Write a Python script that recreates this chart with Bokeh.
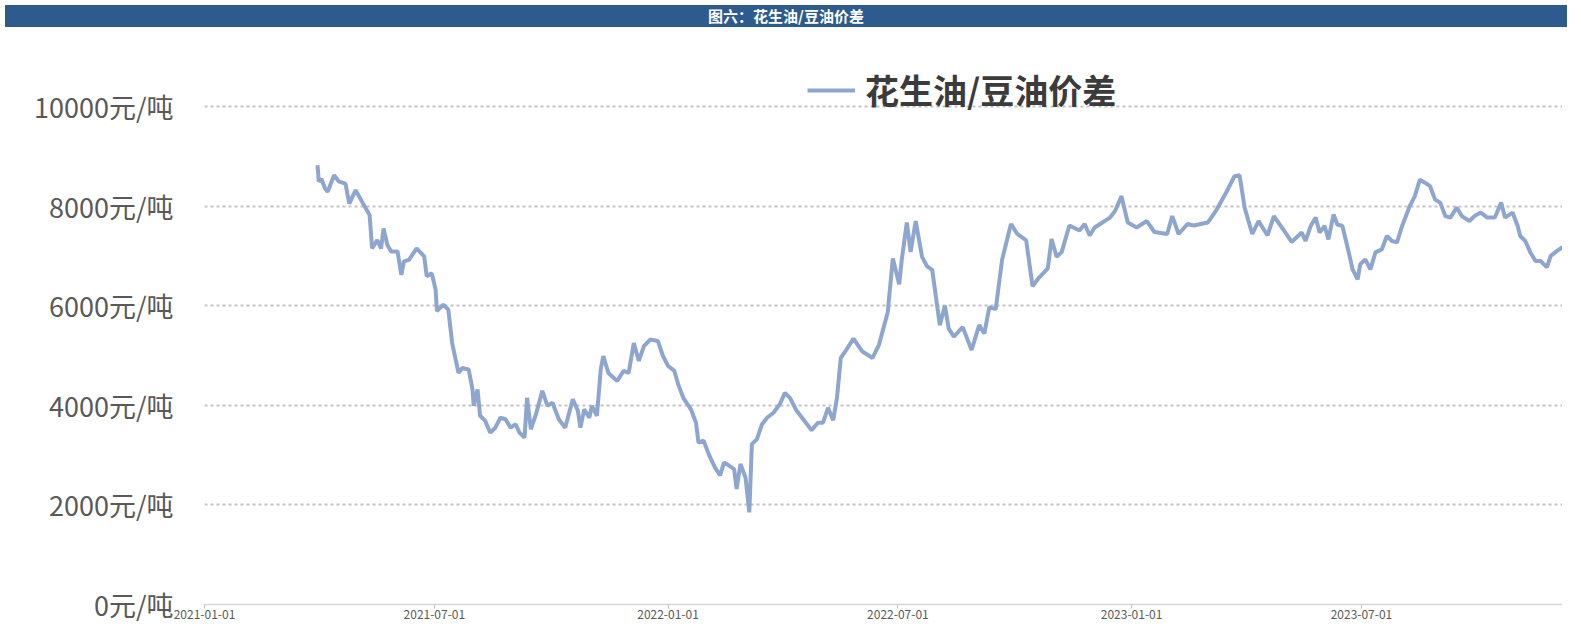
import pandas as pd
from bokeh.plotting import figure
from bokeh.models import Range1d, FixedTicker, Legend, LegendItem, Div, DatetimeTickFormatter
from bokeh.layouts import column
from bokeh.embed import file_html
from bokeh.resources import INLINE

# ---------------- data ----------------
title_text = "图六：花生油/豆油价差"
series_name = "花生油/豆油价差"

dates = [
    "2021-03-31", "2021-04-01", "2021-04-03", "2021-04-06", "2021-04-08", "2021-04-13", "2021-04-17",
    "2021-04-22", "2021-04-25", "2021-04-30", "2021-05-05", "2021-05-11", "2021-05-13", "2021-05-17",
    "2021-05-20", "2021-05-22", "2021-05-25", "2021-05-28", "2021-06-02", "2021-06-05", "2021-06-07",
    "2021-06-11", "2021-06-17", "2021-06-23", "2021-06-25", "2021-06-29", "2021-07-02", "2021-07-03",
    "2021-07-08", "2021-07-12", "2021-07-15", "2021-07-18", "2021-07-20", "2021-07-23", "2021-07-28",
    "2021-07-31", "2021-08-01", "2021-08-04", "2021-08-06", "2021-08-10", "2021-08-14", "2021-08-18",
    "2021-08-22", "2021-08-26", "2021-08-30", "2021-09-03", "2021-09-06", "2021-09-10", "2021-09-12",
    "2021-09-15", "2021-09-19", "2021-09-24", "2021-09-28", "2021-10-02", "2021-10-07", "2021-10-12",
    "2021-10-18", "2021-10-22", "2021-10-24", "2021-10-27", "2021-10-31", "2021-11-02", "2021-11-06",
    "2021-11-09", "2021-11-11", "2021-11-15", "2021-11-22", "2021-11-27", "2021-12-01", "2021-12-05",
    "2021-12-09", "2021-12-13", "2021-12-18", "2021-12-24", "2021-12-28", "2022-01-01", "2022-01-06",
    "2022-01-09", "2022-01-13", "2022-01-19", "2022-01-23", "2022-01-25", "2022-01-29", "2022-02-02",
    "2022-02-07", "2022-02-11", "2022-02-14", "2022-02-18", "2022-02-22", "2022-02-24", "2022-02-27",
    "2022-03-03", "2022-03-06", "2022-03-08", "2022-03-12", "2022-03-16", "2022-03-20", "2022-03-25",
    "2022-03-30", "2022-04-03", "2022-04-07", "2022-04-12", "2022-04-18", "2022-04-24", "2022-04-29",
    "2022-05-03", "2022-05-07", "2022-05-11", "2022-05-14", "2022-05-17", "2022-05-21", "2022-05-27",
    "2022-06-03", "2022-06-11", "2022-06-16", "2022-06-23", "2022-06-27", "2022-07-02", "2022-07-04",
    "2022-07-08", "2022-07-11", "2022-07-15", "2022-07-20", "2022-07-24", "2022-07-28", "2022-08-03",
    "2022-08-07", "2022-08-10", "2022-08-14", "2022-08-21", "2022-08-28", "2022-09-03", "2022-09-07",
    "2022-09-11", "2022-09-16", "2022-09-21", "2022-09-28", "2022-10-03", "2022-10-10", "2022-10-15",
    "2022-10-20", "2022-10-27", "2022-10-30", "2022-11-03", "2022-11-07", "2022-11-13", "2022-11-21",
    "2022-11-25", "2022-11-29", "2022-12-03", "2022-12-09", "2022-12-15", "2022-12-19", "2022-12-24",
    "2022-12-29", "2023-01-05", "2023-01-13", "2023-01-19", "2023-01-29", "2023-02-02", "2023-02-07",
    "2023-02-14", "2023-02-19", "2023-03-02", "2023-03-09", "2023-03-17", "2023-03-23", "2023-03-27",
    "2023-03-31", "2023-04-06", "2023-04-11", "2023-04-18", "2023-04-23", "2023-05-01", "2023-05-07",
    "2023-05-15", "2023-05-18", "2023-05-22", "2023-05-26", "2023-05-29", "2023-06-02", "2023-06-05",
    "2023-06-09", "2023-06-12", "2023-06-16", "2023-06-21", "2023-06-24", "2023-06-28", "2023-06-30",
    "2023-07-04", "2023-07-08", "2023-07-12", "2023-07-17", "2023-07-21", "2023-07-25", "2023-07-29",
    "2023-08-02", "2023-08-08", "2023-08-12", "2023-08-16", "2023-08-20", "2023-08-24", "2023-08-28",
    "2023-09-01", "2023-09-05", "2023-09-09", "2023-09-14", "2023-09-18", "2023-09-24", "2023-09-28",
    "2023-10-03", "2023-10-08", "2023-10-14", "2023-10-19", "2023-10-22", "2023-10-28", "2023-11-01",
    "2023-11-03", "2023-11-07", "2023-11-11", "2023-11-15", "2023-11-19", "2023-11-24", "2023-11-27",
    "2023-12-02", "2023-12-06", "2023-12-10", "2023-12-14", "2023-12-18", "2023-12-23",
]

spread = [
    8820, 8490, 8550, 8350, 8290, 8620, 8490,
    8450, 8050, 8320, 8090, 7820, 7150, 7320,
    7150, 7550, 7220, 7090, 7090, 6620, 6890,
    6920, 7150, 6990, 6590, 6650, 6320, 5890,
    6020, 5920, 5250, 4890, 4650, 4750, 4720,
    4320, 3990, 4320, 3790, 3690, 3450, 3550,
    3750, 3720, 3550, 3620, 3450, 3350, 4150,
    3520, 3820, 4290, 3990, 4050, 3720, 3550,
    4120, 3890, 3550, 3920, 3750, 3990, 3790,
    4720, 4990, 4650, 4490, 4690, 4650, 5250,
    4890, 5190, 5320, 5290, 4990, 4790, 4690,
    4420, 4150, 3920, 3650, 3250, 3290, 3020,
    2750, 2590, 2850, 2790, 2720, 2320, 2820,
    2550, 1850, 3220, 3320, 3620, 3750, 3850,
    4020, 4250, 4150, 3900, 3700, 3500, 3650,
    3650, 3950, 3700, 4150, 4950, 5100, 5340,
    5080, 4950, 5210, 5870, 6950, 6430, 6920,
    7670, 7080, 7700, 6980, 6790, 6720, 5610,
    6000, 5540, 5380, 5570, 5110, 5610, 5440,
    5970, 5930, 6920, 7640, 7440, 7310, 6390,
    6560, 6750, 7340, 6980, 7080, 7610, 7510,
    7640, 7410, 7570, 7670, 7770, 7900, 8200,
    7670, 7570, 7700, 7480, 7440, 7800, 7440,
    7640, 7610, 7670, 7930, 8300, 8600, 8620,
    7970, 7440, 7700, 7410, 7800, 7510, 7280,
    7470, 7300, 7600, 7770, 7470, 7600, 7330,
    7830, 7630, 7600, 7070, 6730, 6530, 6830,
    6930, 6730, 7070, 7130, 7400, 7300, 7270,
    7600, 8000, 8200, 8530, 8470, 8400, 8130,
    8070, 7800, 7770, 7970, 7800, 7700, 7800,
    7870, 7770, 7770, 8070, 7770, 7870, 7600,
    7400, 7300, 7070, 6900, 6900, 6770, 7000,
    7100, 7170, 7100, 7300, 7500, 7400,
]

x_tick_labels = ["2021-01-01", "2021-07-01", "2022-01-01", "2022-07-01", "2023-01-01", "2023-07-01"]
y_ticks = [0, 2000, 4000, 6000, 8000, 10000]
y_tick_labels = ["0元/吨", "2000元/吨", "4000元/吨", "6000元/吨", "8000元/吨", "10000元/吨"]

# ---------------- style ----------------
FONT = "Noto Sans CJK SC"
LINE_COLOR = "#8ea6cd"
BAR_COLOR = "#2d5b8e"

W = 1562
LEFT = 204
x = pd.to_datetime(dates)
xt_ms = [int(pd.Timestamp(t).timestamp() * 1000) for t in x_tick_labels]
day_ms = 86400000
x_start = xt_ms[0]
x_end = xt_ms[0] + int((W - LEFT) / 1.27 * day_ms)

p = figure(
    width=W, height=592,
    x_axis_type="datetime",
    x_range=Range1d(x_start, x_end),
    y_range=Range1d(0, 11486),
    output_backend="svg", toolbar_location=None,
    min_border_left=LEFT, min_border_right=0, min_border_top=0, min_border_bottom=20,
)
p.outline_line_color = None
p.background_fill_color = "white"
p.border_fill_color = "white"

r = p.line(x, spread, line_color=LINE_COLOR, line_width=4)

legend = Legend(
    items=[LegendItem(label=series_name, renderers=[r])],
    location=(603, 490),
    border_line_color=None, background_fill_alpha=0,
    padding=0, margin=0, spacing=0,
    glyph_width=48, glyph_height=40, label_height=40,
    label_standoff=10,
    label_text_font=FONT, label_text_font_size="34px", label_text_color="#3b3b3b",
    label_text_font_style="bold",
)
p.add_layout(legend)

# y axis
p.yaxis.ticker = FixedTicker(ticks=y_ticks)
p.yaxis.major_label_overrides = dict(zip(y_ticks, y_tick_labels))
p.yaxis.axis_line_color = None
p.yaxis.major_tick_line_color = None
p.yaxis.minor_tick_line_color = None
p.yaxis.major_tick_out = 0
p.yaxis.major_tick_in = 0
p.yaxis.major_label_standoff = 31
p.yaxis.major_label_text_font = FONT
p.yaxis.major_label_text_font_size = "27px"
p.yaxis.major_label_text_color = "#595959"

# x axis
p.xaxis.ticker = FixedTicker(ticks=xt_ms)
fmt = "%Y-%m-%d"
p.xaxis.formatter = DatetimeTickFormatter(days=fmt, months=fmt, years=fmt, hours=fmt, minutes=fmt)
p.xaxis.axis_line_color = "#d6d6d6"
p.xaxis.axis_line_width = 1.5
p.xaxis.major_tick_line_color = "#bfbfbf"
p.xaxis.major_tick_out = 4
p.xaxis.major_tick_in = 0
p.xaxis.minor_tick_line_color = None
p.xaxis.major_label_standoff = 1
p.xaxis.major_label_text_font = FONT
p.xaxis.major_label_text_font_size = "12px"
p.xaxis.major_label_text_color = "#595959"

# grid
p.xgrid.grid_line_color = None
p.ygrid.ticker = FixedTicker(ticks=y_ticks[1:])
p.ygrid.grid_line_color = "#c4c4c4"
p.ygrid.grid_line_dash = "3 3"
p.ygrid.grid_line_width = 2

title_div = Div(
    text=(
        '<div style="width:%dpx;height:22px;text-align:center;color:#ffffff;'
        'font-weight:bold;font-size:15px;line-height:22px;font-family:\'Noto Sans CJK SC\';">' % W
        + title_text + '</div>'
    ),
    width=W, height=22,
    styles={"background-color": BAR_COLOR},
)

layout = column(title_div, p, spacing=0)

open("out.html", "w").write(file_html(layout, INLINE))
